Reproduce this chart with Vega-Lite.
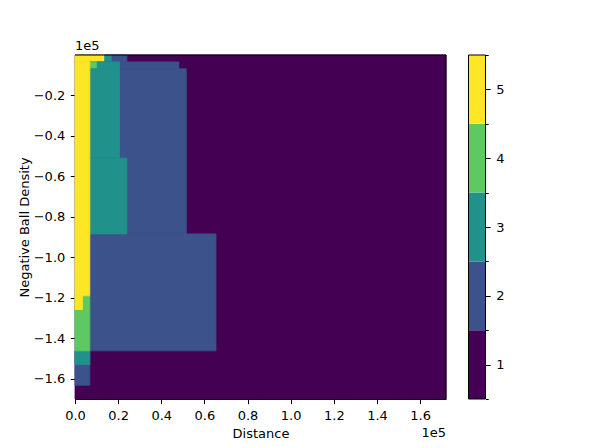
{
  "$schema": "https://vega.github.io/schema/vega-lite/v6.json",
  "padding": {"left": 18, "top": 39, "right": 5, "bottom": 5},
  "spacing": 20.5,
  "background": "white",
  "config": {
    "font": "DejaVu Sans",
    "view": {"stroke": null},
    "axis": {
      "grid": false,
      "domainColor": "black",
      "domainWidth": 1,
      "tickColor": "black",
      "tickWidth": 1,
      "tickSize": 4.7,
      "labelColor": "black",
      "labelFont": "DejaVu Sans",
      "labelFontSize": 13,
      "labelPadding": 5.5,
      "labelFlush": false,
      "labelOverlap": false,
      "titleColor": "black",
      "titleFont": "DejaVu Sans",
      "titleFontSize": 13,
      "titleFontWeight": "normal",
      "zindex": 1
    }
  },
  "hconcat": [
    {
      "width": 371,
      "height": 344,
      "layer": [
        {
          "data": {
            "values": [
              {"value": 1, "x0": 0, "x1": 172000, "y0": 0, "y1": -170000},
              {"value": 5, "x0": 0, "x1": 13760, "y0": 0, "y1": -3400},
              {"value": 3, "x0": 13760, "x1": 17200, "y0": 0, "y1": -3400},
              {"value": 2, "x0": 17200, "x1": 24080, "y0": 0, "y1": -3400},
              {"value": 2, "x0": 6880, "x1": 48160, "y0": -3400, "y1": -10200},
              {"value": 2, "x0": 6880, "x1": 51600, "y0": -6800, "y1": -88400},
              {"value": 2, "x0": 6880, "x1": 65360, "y0": -88400, "y1": -146200},
              {"value": 4, "x0": 6880, "x1": 10320, "y0": -3400, "y1": -6800},
              {"value": 3, "x0": 10320, "x1": 20640, "y0": -3400, "y1": -6800},
              {"value": 3, "x0": 6880, "x1": 20640, "y0": -6800, "y1": -51000},
              {"value": 3, "x0": 6880, "x1": 24080, "y0": -51000, "y1": -88400},
              {"value": 2, "x0": 0, "x1": 6880, "y0": -146200, "y1": -163200},
              {"value": 3, "x0": 0, "x1": 6880, "y0": -146200, "y1": -153000},
              {"value": 4, "x0": 0, "x1": 6880, "y0": -119000, "y1": -146200},
              {"value": 5, "x0": 0, "x1": 6880, "y0": -3400, "y1": -119000},
              {"value": 5, "x0": 0, "x1": 3440, "y0": -119000, "y1": -125800}
            ]
          },
          "mark": {"type": "rect", "strokeWidth": 0.8},
          "encoding": {
            "x": {
              "field": "x0",
              "type": "quantitative",
              "scale": {"domain": [0, 172000], "nice": false, "zero": false},
              "axis": {
                "title": "Distance",
                "values": [0, 20000, 40000, 60000, 80000, 100000, 120000, 140000, 160000],
                "labelExpr": "format(datum.value / 100000, '.1f')",
                "titlePadding": 5
              }
            },
            "x2": {"field": "x1"},
            "y": {
              "field": "y0",
              "type": "quantitative",
              "scale": {"domain": [-170000, 0], "nice": false, "zero": false},
              "axis": {
                "title": "Negative Ball Density",
                "values": [-160000, -140000, -120000, -100000, -80000, -60000, -40000, -20000],
                "labelExpr": "format(datum.value / 100000, '.1f')",
                "titlePadding": 2
              }
            },
            "y2": {"field": "y1"},
            "color": {
              "field": "value",
              "type": "ordinal",
              "scale": {"domain": [1, 2, 3, 4, 5], "range": ["#440154", "#3b528b", "#21918c", "#5ec962", "#fde725"]},
              "legend": null
            },
            "stroke": {
              "field": "value",
              "type": "ordinal",
              "scale": {"domain": [1, 2, 3, 4, 5], "range": ["#440154", "#3b528b", "#21918c", "#5ec962", "#fde725"]},
              "legend": null
            }
          }
        },
        {
          "data": {"values": [{}]},
          "mark": {"type": "rule", "color": "black", "strokeWidth": 1},
          "encoding": {"x": {"datum": 172000, "type": "quantitative"}}
        },
        {
          "data": {"values": [{}]},
          "mark": {"type": "rule", "color": "black", "strokeWidth": 1},
          "encoding": {"y": {"datum": 0, "type": "quantitative"}}
        },
        {
          "data": {"values": [{}]},
          "mark": {"type": "text", "text": "1e5", "align": "right", "baseline": "top", "dy": 28.2, "fontSize": 13, "color": "black"},
          "encoding": {
            "x": {"datum": 172000, "type": "quantitative"},
            "y": {"datum": -170000, "type": "quantitative"}
          }
        },
        {
          "data": {"values": [{}]},
          "mark": {"type": "text", "text": "1e5", "align": "left", "baseline": "alphabetic", "dy": -5.5, "fontSize": 13, "color": "black"},
          "encoding": {
            "x": {"datum": 0, "type": "quantitative"},
            "y": {"datum": 0, "type": "quantitative"}
          }
        }
      ]
    },
    {
      "width": 17,
      "height": 344,
      "resolve": {"axis": {"y": "independent"}},
      "layer": [
        {
          "data": {
            "values": [
              {"value": 1, "lo": 0.5, "hi": 1.5},
              {"value": 2, "lo": 1.5, "hi": 2.5},
              {"value": 3, "lo": 2.5, "hi": 3.5},
              {"value": 4, "lo": 3.5, "hi": 4.5},
              {"value": 5, "lo": 4.5, "hi": 5.5}
            ]
          },
          "mark": {"type": "rect"},
          "encoding": {
            "x": {"datum": 0, "type": "quantitative", "scale": {"domain": [0, 1], "nice": false, "zero": false}, "axis": null},
            "x2": {"datum": 1},
            "y": {
              "field": "lo",
              "type": "quantitative",
              "scale": {"domain": [0.5, 5.5], "nice": false, "zero": false},
              "axis": {
                "orient": "right",
                "title": null,
                "domain": false,
                "values": [1, 2, 3, 4, 5],
                "format": "d"
              }
            },
            "y2": {"field": "hi"},
            "color": {
              "field": "value",
              "type": "ordinal",
              "scale": {"domain": [1, 2, 3, 4, 5], "range": ["#440154", "#3b528b", "#21918c", "#5ec962", "#fde725"]},
              "legend": null
            }
          }
        },
        {
          "data": {"values": [{}]},
          "mark": {"type": "rule", "color": "black", "strokeWidth": 1},
          "encoding": {"x": {"datum": 0, "type": "quantitative"}}
        },
        {
          "data": {"values": [{}]},
          "mark": {"type": "rule", "color": "black", "strokeWidth": 1},
          "encoding": {"x": {"datum": 1, "type": "quantitative"}}
        },
        {
          "data": {"values": [{}]},
          "mark": {"type": "rule", "color": "black", "strokeWidth": 1},
          "encoding": {
            "y": {
              "datum": 0.5,
              "type": "quantitative",
              "axis": {
                "orient": "right",
                "title": null,
                "domain": false,
                "labels": false,
                "tickSize": 2.7,
                "values": [0.5, 1.5, 2.5, 3.5, 4.5, 5.5]
              }
            }
          }
        },
        {
          "data": {"values": [{}]},
          "mark": {"type": "rule", "color": "black", "strokeWidth": 1},
          "encoding": {"y": {"datum": 5.5, "type": "quantitative", "axis": null}}
        }
      ]
    }
  ]
}
